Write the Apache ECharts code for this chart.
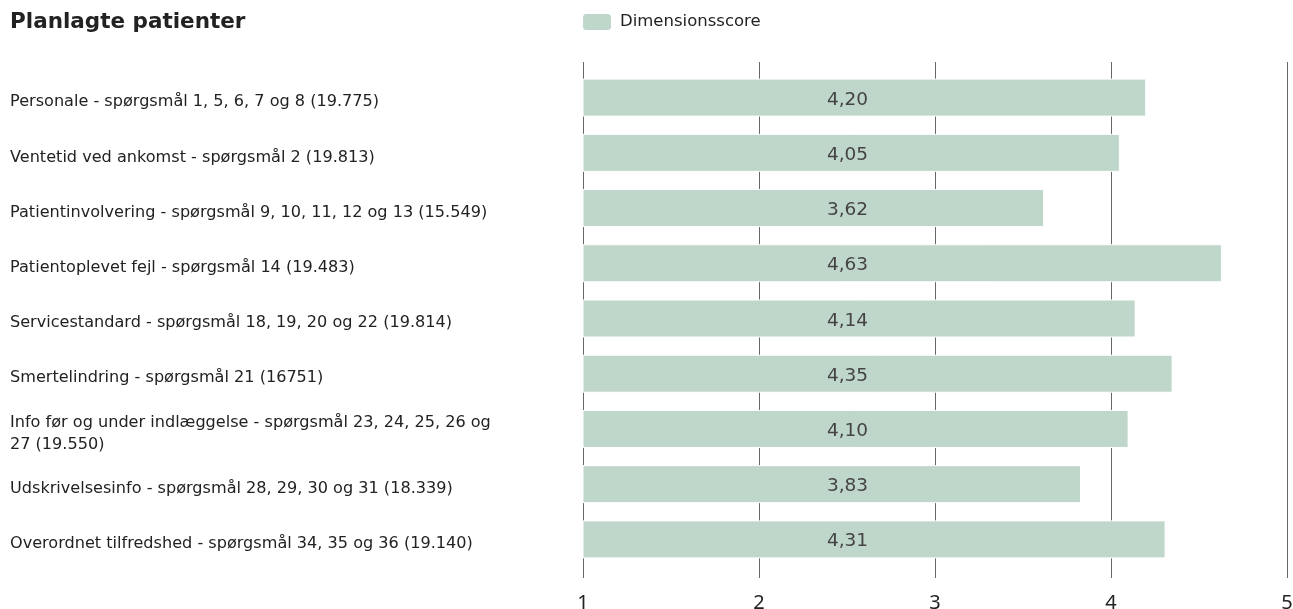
<!DOCTYPE html>
<html>
<head>
<meta charset="utf-8">
<script src="https://cdn.jsdelivr.net/npm/echarts@6/dist/echarts.min.js"></script>
<style>
  html, body { margin: 0; padding: 0; background: #ffffff; }
  #chart { width: 1293px; height: 609px; }
</style>
</head>
<body>
<div id="chart"></div>
<script>
// Dimension names with respondent counts
const categories = [
  'Personale - spørgsmål 1, 5, 6, 7 og 8 (19.775)',
  'Ventetid ved ankomst - spørgsmål 2 (19.813)',
  'Patientinvolvering - spørgsmål 9, 10, 11, 12 og 13 (15.549)',
  'Patientoplevet fejl - spørgsmål 14 (19.483)',
  'Servicestandard - spørgsmål 18, 19, 20 og 22 (19.814)',
  'Smertelindring - spørgsmål 21 (16751)',
  'Info før og under indlæggelse - spørgsmål 23, 24, 25, 26 og 27 (19.550)',
  'Udskrivelsesinfo - spørgsmål 28, 29, 30 og 31 (18.339)',
  'Overordnet tilfredshed - spørgsmål 34, 35 og 36 (19.140)'
];

// Average dimension score per category
const scores = [4.20, 4.05, 3.62, 4.63, 4.14, 4.35, 4.10, 3.83, 4.31];

const seriesName = 'Dimensionsscore';
const titleText = 'Planlagte patienter';

// Score scale
const scaleMin = 1;
const scaleMax = 5;
const scaleStep = 1;

const textFont = 'DejaVu Sans';

const chart = echarts.init(document.getElementById('chart'), null, { renderer: 'canvas' });

chart.setOption({
  animation: false,
  backgroundColor: '#ffffff',
  title: {
    text: titleText,
    left: 5,
    top: 6,
    textStyle: {
      fontFamily: 'DejaVu Sans',
      fontWeight: 'bold',
      fontSize: 21.5,
      color: '#222222'
    }
  },
  legend: {
    data: [seriesName],
    left: 576,
    top: 7,
    itemWidth: 30,
    itemHeight: 18,
    itemGap: 6,
    icon: 'roundRect',
    textStyle: {
      fontFamily: textFont,
      fontSize: 16.5,
      color: '#222222',
      padding: [2, 0, 0, 3]
    }
  },
  grid: [
    // bars
    { left: 583, right: 6, top: 70, height: 497, outerBoundsMode: 'none', containLabel: false },
    // full-height vertical grid lines behind the bars
    { left: 583, right: 6, top: 62, height: 516, outerBoundsMode: 'none', containLabel: false },
    // category labels, set slightly lower than the bar centres
    { left: 583, right: 6, top: 74.5, height: 497, outerBoundsMode: 'none', containLabel: false }
  ],
  xAxis: [
    {
      gridIndex: 0,
      type: 'value',
      min: scaleMin,
      max: scaleMax,
      interval: scaleStep,
      axisLine: { show: false },
      axisTick: { show: false },
      splitLine: { show: false },
      axisLabel: { show: false }
    },
    {
      gridIndex: 1,
      type: 'value',
      min: scaleMin,
      max: scaleMax,
      interval: scaleStep,
      axisLine: { show: false },
      axisTick: { show: false },
      splitLine: { show: true, lineStyle: { color: '#666666', width: 1 } },
      axisLabel: {
        show: true,
        margin: 15,
        fontFamily: 'Noto Sans',
        fontSize: 20,
        color: '#222222'
      }
    },
    {
      gridIndex: 2,
      type: 'value',
      min: scaleMin,
      max: scaleMax,
      show: false
    }
  ],
  yAxis: [
    {
      gridIndex: 0,
      type: 'category',
      data: categories,
      inverse: true,
      axisLine: { show: false },
      axisTick: { show: false },
      splitLine: { show: false },
      axisLabel: { show: false }
    },
    {
      gridIndex: 1,
      type: 'value',
      min: 0,
      max: 1,
      show: false
    },
    {
      gridIndex: 2,
      type: 'category',
      data: categories,
      inverse: true,
      axisLine: { show: false },
      axisTick: { show: false },
      splitLine: { show: false },
      axisLabel: {
        align: 'left',
        margin: 573,
        width: 510,
        overflow: 'break',
        lineHeight: 22,
        fontFamily: textFont,
        fontSize: 16.1,
        color: '#222222'
      }
    }
  ],
  series: [
    {
      name: seriesName,
      type: 'bar',
      xAxisIndex: 0,
      yAxisIndex: 0,
      data: scores,
      barWidth: 38,
      itemStyle: {
        color: '#bfd6cb',
        borderColor: '#ffffff',
        borderWidth: 1
      },
      label: {
        show: true,
        // value labels share one column across all bars
        position: [265, '56%'],
        align: 'center',
        verticalAlign: 'middle',
        fontFamily: textFont,
        fontSize: 18.5,
        color: '#444444',
        formatter: p => p.value.toFixed(2).replace('.', ',')
      }
    }
  ]
});
</script>
</body>
</html>
